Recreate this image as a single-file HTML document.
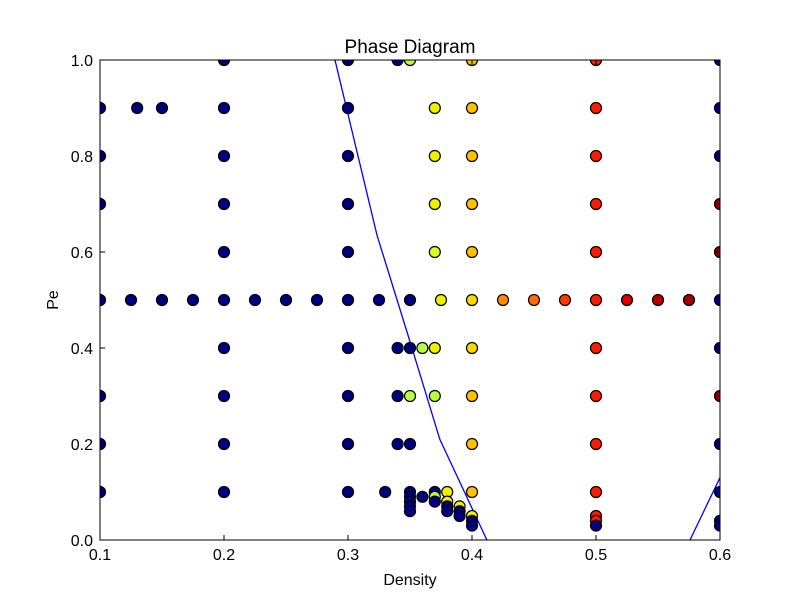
<!DOCTYPE html>
<html><head><meta charset="utf-8"><style>
body{margin:0;background:#fff;font-family:"Liberation Sans",sans-serif}
</style></head><body>
<svg id="chart" width="800" height="600" xmlns="http://www.w3.org/2000/svg">
<defs><clipPath id="pc"><rect x="100" y="60" width="620" height="480"/></clipPath></defs>
<rect width="800" height="600" fill="#fff"/>
<g id="lines" clip-path="url(#pc)"></g>
<g id="pts" clip-path="url(#pc)"></g>
<rect x="100" y="60" width="620" height="480" fill="none" stroke="#000" stroke-width="1"/>
<g id="axes"></g>
<text x="410" y="53" text-anchor="middle" font-size="19">Phase Diagram</text>
<text x="410" y="585" text-anchor="middle" font-size="16">Density</text>
<text x="58" y="300" text-anchor="middle" font-size="16" transform="rotate(-90 58 300)">Pe</text>
</svg>
<script>
const N='#00007f',YG='#b8ff40',Y='#f0f000',G='#ffc000',GY='#ffd700',R='#ff1a00';
const densities=[0.1,0.1,0.1,0.1,0.1,0.1,0.1,0.13,0.15,
0.2,0.2,0.2,0.2,0.2,0.2,0.2,0.2,0.2,0.2,
0.125,0.15,0.175,0.225,0.25,0.275,0.325,0.35,0.375,0.425,0.45,0.475,0.525,0.55,0.575,
0.3,0.3,0.3,0.3,0.3,0.3,0.3,0.3,0.3,0.3,
0.34,0.35,0.37,0.37,0.37,0.37,0.34,0.35,0.36,0.37,0.34,0.35,0.37,0.34,0.35,
0.4,0.4,0.4,0.4,0.4,0.4,0.4,0.4,0.4,0.4,
0.33,0.35,0.35,0.35,0.35,0.35,0.36,0.37,0.37,0.37,0.38,0.38,0.38,0.38,0.39,0.39,0.39,0.4,0.4,0.4,
0.5,0.5,0.5,0.5,0.5,0.5,0.5,0.5,0.5,0.5,0.5,0.5,0.5,
0.6,0.6,0.6,0.6,0.6,0.6,0.6,0.6,0.6,0.6,0.6,0.6];
const peValues=[0.1,0.2,0.3,0.5,0.7,0.8,0.9,0.9,0.9,
0.1,0.2,0.3,0.4,0.5,0.6,0.7,0.8,0.9,1.0,
0.5,0.5,0.5,0.5,0.5,0.5,0.5,0.5,0.5,0.5,0.5,0.5,0.5,0.5,0.5,
0.1,0.2,0.3,0.4,0.5,0.6,0.7,0.8,0.9,1.0,
1.0,1.0,0.9,0.8,0.7,0.6,0.4,0.4,0.4,0.4,0.3,0.3,0.3,0.2,0.2,
0.1,0.2,0.3,0.4,0.5,0.6,0.7,0.8,0.9,1.0,
0.1,0.1,0.09,0.08,0.07,0.06,0.09,0.1,0.09,0.08,0.1,0.08,0.07,0.06,0.07,0.06,0.05,0.05,0.04,0.03,
1.0,0.9,0.8,0.7,0.6,0.5,0.4,0.3,0.2,0.1,0.05,0.04,0.03,
1.0,0.9,0.8,0.7,0.6,0.5,0.4,0.3,0.2,0.1,0.04,0.03];
const colors=[N,N,N,N,N,N,N,N,N,
N,N,N,N,N,N,N,N,N,N,
N,N,N,N,N,N,N,N,Y,'#ff8c00','#ff6a00','#ff3a00','#d80000','#b80000','#a00000',
N,N,N,N,N,N,N,N,N,N,
N,YG,Y,Y,Y,'#d8ff20',N,N,YG,Y,N,YG,YG,N,N,
G,G,G,GY,GY,G,G,G,G,G,
N,N,N,N,N,N,N,N,YG,N,Y,Y,N,N,Y,N,N,Y,N,N,
R,R,R,R,R,R,R,R,R,R,R,R,N,
N,N,N,'#900000','#900000',N,N,'#900000',N,N,N,N];
const boundaryD=[0.2895,0.3234,0.3516,0.374,0.412];
const boundaryPe=[1.0,0.635,0.4,0.21,0.0];
const boundary2D=[0.5758,0.6];
const boundary2Pe=[0.0,0.13];
const xTicks=[0.1,0.2,0.3,0.4,0.5,0.6];
const yTicks=[0.0,0.2,0.4,0.6,0.8,1.0];
const X=d=>100+(d-0.1)*1240, Yp=p=>540-p*480;
const ns='http://www.w3.org/2000/svg';
function mk(t,a){const e=document.createElementNS(ns,t);for(const k in a)e.setAttribute(k,a[k]);return e;}
const pg=document.getElementById('pts');
densities.forEach((d,i)=>{const c=mk('circle',{cx:X(d),cy:Yp(peValues[i]),r:5.5,fill:colors[i],stroke:'#000','stroke-width':1.2});


pg.appendChild(c);});
const lg=document.getElementById('lines');
[[boundaryD,boundaryPe],[boundary2D,boundary2Pe]].forEach(([ds,ps])=>{
const l=mk('polyline',{points:ds.map((d,i)=>X(d)+','+Yp(ps[i])).join(' '),fill:'none',stroke:'#0000ff','stroke-width':1.3});


lg.appendChild(l);});
const ax=document.getElementById('axes');
xTicks.forEach(v=>{const x=X(v);
ax.appendChild(mk('line',{x1:x,x2:x,y1:540,y2:535,stroke:'#000'}));
ax.appendChild(mk('line',{x1:x,x2:x,y1:60,y2:65,stroke:'#000'}));
const t=mk('text',{x:x,y:560,'text-anchor':'middle','font-size':16});t.textContent=v.toFixed(1);


ax.appendChild(t);});
yTicks.forEach(v=>{const y=Yp(v);
ax.appendChild(mk('line',{x1:100,x2:105,y1:y,y2:y,stroke:'#000'}));
ax.appendChild(mk('line',{x1:720,x2:715,y1:y,y2:y,stroke:'#000'}));
const t=mk('text',{x:93,y:y+6,'text-anchor':'end','font-size':16});t.textContent=v.toFixed(1);


ax.appendChild(t);});
</script>
</body></html>
